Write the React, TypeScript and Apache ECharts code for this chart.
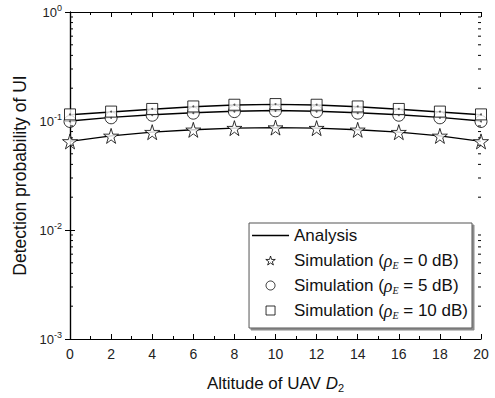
import React, { useEffect, useRef } from "react";
import * as echarts from "echarts";

const altitudes = [0, 2, 4, 6, 8, 10, 12, 14, 16, 18, 20];
const analysis10dB = [0.114, 0.121, 0.128, 0.135, 0.140, 0.142, 0.140, 0.135, 0.128, 0.121, 0.114];
const analysis5dB = [0.100, 0.108, 0.114, 0.119, 0.123, 0.125, 0.123, 0.119, 0.114, 0.108, 0.100];
const analysis0dB = [0.065, 0.073, 0.079, 0.083, 0.086, 0.087, 0.086, 0.083, 0.079, 0.073, 0.065];
const sim10dB = [0.115, 0.122, 0.129, 0.136, 0.141, 0.143, 0.141, 0.136, 0.129, 0.122, 0.115];
const sim5dB = [0.099, 0.107, 0.113, 0.118, 0.122, 0.124, 0.122, 0.118, 0.113, 0.107, 0.099];
const sim0dB = [0.065, 0.073, 0.079, 0.083, 0.086, 0.087, 0.086, 0.083, 0.079, 0.073, 0.065];
const decadeExponents = [-3, -2, -1];
const minorMultipliers = [2, 3, 4, 5, 6, 7, 8, 9];

const legendNames = [
  "Analysis",
  "Simulation (rhoE = 0 dB)",
  "Simulation (rhoE = 5 dB)",
  "Simulation (rhoE = 10 dB)",
];

const STAR =
  "path://M50,0 L61,35 L98,35 L68,57 L79,91 L50,70 L21,91 L32,57 L2,35 L39,35 Z";
const SQUARE = "path://M0,0 L10,0 L10,10 L0,10 Z";
const THINLINE = "path://M0,0 L37,0 L37,1.4 L0,1.4 Z";

const FONT = "Liberation Sans, Arial, sans-serif";
const SERIF = "Liberation Serif, serif";

export default function App() {
  const ref = useRef<HTMLDivElement>(null);
  useEffect(() => {
    if (!ref.current) return;
    const chart = echarts.init(ref.current, null, { renderer: "svg" });
    const pairs = (ys: number[]) => altitudes.map((x, i) => [x, ys[i]]);
    const minorVals: number[][] = [];
    decadeExponents.forEach((e) =>
      minorMultipliers.forEach((m) => minorVals.push([0, m * Math.pow(10, e)]))
    );
    const lineS = (ys: number[]) => ({
      name: "Analysis",
      type: "line",
      data: pairs(ys),
      symbol: "none",
      lineStyle: { color: "#000", width: 1.4 },
      itemStyle: { color: "#000" },
      z: 2,
    });
    const hollow = { color: "#fff", borderColor: "#000", borderWidth: 1 };
    const scatS = (name: string, ys: number[], symbol: string, size: number) => ({
      name,
      type: "scatter",
      data: pairs(ys),
      symbol,
      symbolSize: size,
      itemStyle: hollow,
      z: 3,
    });
    const dotS = (ys: number[]) => ({
      type: "scatter",
      name: "dot",
      data: pairs(ys),
      symbol: "circle",
      symbolSize: 2,
      itemStyle: { color: "#333" },
      silent: true,
      z: 4,
    });
    const supRich = {
      b: { fontSize: 13, fontFamily: FONT, color: "#222" },
      s: { fontSize: 9, fontFamily: FONT, color: "#222", verticalAlign: "top", padding: [0, 0, 8, 0] },
    };
    chart.setOption({
      animation: false,
      backgroundColor: "#fff",
      grid: { left: 70, right: 14, top: 12, bottom: 58 },
      legend: {
        data: [
          { name: legendNames[0], icon: THINLINE, itemStyle: { color: "#000", borderWidth: 0 } },
          { name: legendNames[1], icon: STAR, itemStyle: hollow },
          { name: legendNames[2], icon: "circle", itemStyle: hollow },
          { name: legendNames[3], icon: SQUARE, itemStyle: hollow },
        ],
        orient: "vertical",
        right: 23,
        bottom: 70,
        itemWidth: 37,
        itemHeight: 9,
        itemGap: 6,
        padding: [3, 4, 8, 3],
        backgroundColor: "#fff",
        borderColor: "#555",
        borderWidth: 1,
        borderRadius: 0,
        shadowColor: "rgba(0,0,0,0.45)",
        shadowOffsetX: 2,
        shadowOffsetY: 2,
        shadowBlur: 0,
        formatter: (name: string) => {
          if (name === "Analysis") return "{a|Analysis}";
          const m = name.match(/= (\d+) dB/);
          return "{a|Simulation (}{i|ρ}{sub|E}{a| = " + (m ? m[1] : "") + " dB)}";
        },
        textStyle: {
          fontFamily: FONT,
          fontSize: 17,
          color: "#111",
          lineHeight: 19,
          padding: [0, 0, 0, 0],
          rich: {
            a: { fontFamily: FONT, fontSize: 17, color: "#111", lineHeight: 19 },
            i: { fontFamily: SERIF, fontStyle: "italic", fontSize: 18, color: "#111", lineHeight: 19 },
            sub: { fontFamily: SERIF, fontStyle: "italic", fontSize: 10, color: "#111", verticalAlign: "bottom", lineHeight: 19, padding: [7, 0, 0, 0] },
          },
        },
      },
      xAxis: [
        {
          type: "value",
          min: 0,
          max: 20,
          interval: 2,
          name: "{a|Altitude of UAV }{i|D}{s|2}",
          nameLocation: "middle",
          nameGap: 34,
          nameTextStyle: {
            rich: {
              a: { fontFamily: FONT, fontSize: 17, color: "#111" },
              i: { fontFamily: FONT, fontStyle: "italic", fontSize: 17, color: "#111" },
              s: { fontFamily: FONT, fontSize: 11, color: "#111", verticalAlign: "bottom", padding: [9, 0, 0, 0] },
            },
          },
          axisLine: { lineStyle: { color: "#000", width: 1.2 } },
          axisTick: { inside: true, length: 5, lineStyle: { color: "#000" } },
          minorTick: { show: true, splitNumber: 2, length: 3, lineStyle: { color: "#000" } },
          axisLabel: { fontFamily: FONT, fontSize: 14, color: "#222", margin: 8 },
          splitLine: { show: false },
        },
        {
          type: "value",
          position: "top",
          min: 0,
          max: 20,
          interval: 2,
          axisLine: { lineStyle: { color: "#000", width: 1.2 } },
          axisTick: { inside: true, length: 5, lineStyle: { color: "#000" } },
          minorTick: { show: true, splitNumber: 2, length: 3, lineStyle: { color: "#000" } },
          axisLabel: { show: false },
          splitLine: { show: false },
        },
      ],
      yAxis: [
        {
          type: "log",
          logBase: 10,
          min: 0.001,
          max: 1,
          name: "Detection probability of UI",
          nameLocation: "middle",
          nameGap: 40,
          nameTextStyle: { fontFamily: FONT, fontSize: 17.5, color: "#111" },
          axisLine: { show: true, lineStyle: { color: "#000", width: 1.2 } },
          axisTick: { show: true, inside: true, length: 5, lineStyle: { color: "#000" } },
          axisLabel: {
            fontFamily: FONT,
            margin: 8,
            formatter: (v: number) => "{b|10}{s|" + Math.round(Math.log10(v)) + "}",
            rich: supRich,
          },
          splitLine: { show: false },
        },
        {
          type: "log",
          logBase: 10,
          min: 0.001,
          max: 1,
          position: "right",
          axisLine: { show: true, lineStyle: { color: "#000", width: 1.2 } },
          axisTick: { show: true, inside: true, length: 5, lineStyle: { color: "#000" } },
          axisLabel: { show: false },
          splitLine: { show: false },
        },
      ],
      series: [
        lineS(analysis10dB),
        lineS(analysis5dB),
        lineS(analysis0dB),
        scatS(legendNames[1], sim0dB, STAR, 15),
        scatS(legendNames[2], sim5dB, "circle", 12),
        scatS(legendNames[3], sim10dB, "rect", 11),
        dotS(sim5dB),
        dotS(sim10dB),
        {
          type: "custom",
          name: "minor",
          data: minorVals,
          silent: true,
          clip: false,
          z: 5,
          renderItem: (_p: any, api: any) => {
            const v = api.value(1);
            const a = api.coord([0, v]);
            const b = api.coord([20, v]);
            return {
              type: "group",
              children: [
                { type: "line", shape: { x1: a[0], y1: a[1], x2: a[0] + 3, y2: a[1] }, style: { stroke: "#000", lineWidth: 1 } },
                { type: "line", shape: { x1: b[0], y1: b[1], x2: b[0] - 3, y2: b[1] }, style: { stroke: "#000", lineWidth: 1 } },
              ],
            };
          },
        },
      ],
    });
    return () => chart.dispose();
  }, []);
  return <div ref={ref} style={{ width: 495, height: 398, position: "absolute", left: 0, top: 0 }} />;
}
